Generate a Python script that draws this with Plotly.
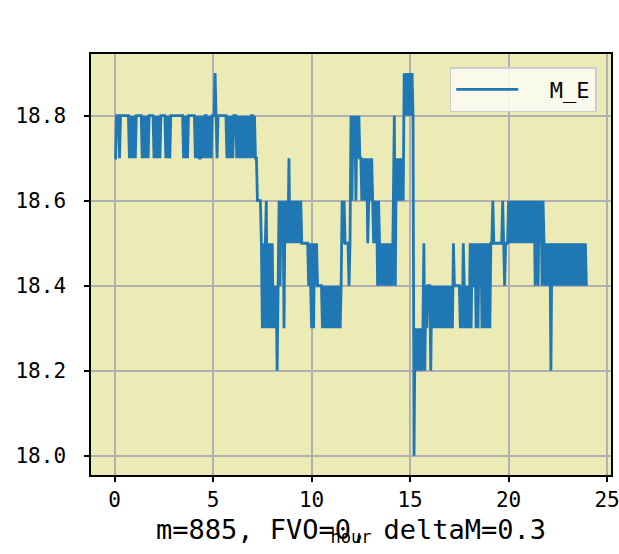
import plotly.graph_objects as go

# M_E readings sampled every 0.05 h; one string per hour,
# each digit = tenths above 18.0 (e.g. "7" -> 18.7)
series_name = "M_E"
base_value = 18.0
step_hours = 0.05
hour_blocks = [
    "77888788888888878787",  # 0 h
    "87888888787878788888",  # 1 h
    "78787878888878787888",  # 2 h
    "88888888887878788888",  # 3 h
    "88787877878788787878",  # 4 h
    "88987888888888787878",  # 5 h
    "78887878787878787878",  # 6 h
    "87877666653535635353",  # 7 h
    "53434246465636565756",  # 8 h
    "56565656565555555454",  # 9 h
    "35354544444343434343",  # 10 h
    "43434343434656555545",  # 11 h
    "86878687877676767567",  # 12 h
    "67656564654545454545",  # 13 h
    "45468476767676989898",  # 14 h
    "98980323232323524344",  # 15 h
    "42434343434343434343",  # 16 h
    "43435444444343543434",  # 17 h
    "35354453535453535353",  # 18 h
    "53556555555555654555",  # 19 h
    "65656565656565656565",  # 20 h
    "65656564654656465454",  # 21 h
    "54525454545454545454",  # 22 h
    "54545454545454545454",  # 23 h
]
x_ticks = [0, 5, 10, 15, 20, 25]
y_ticks = [18.0, 18.2, 18.4, 18.6, 18.8]
title_text = "m=885, FVO=0, deltaM=0.3"
x_label = "hour"

values = [round(base_value + int(c) / 10, 1) for block in hour_blocks for c in block]
hours = [round(i * step_hours, 2) for i in range(len(values))]

FONT = "DejaVu Sans Mono"

fig = go.Figure()
fig.add_trace(go.Scatter(
    x=hours, y=values, mode="lines", name="\u00a0\u00a0" + series_name,
    line=dict(color="#1f77b4", width=2.8, simplify=False),
))

axis_common = dict(
    showline=True, mirror=True, linecolor="black", linewidth=1.5,
    ticks="outside", ticklen=5, tickwidth=1.5, tickcolor="black",
    showgrid=True, gridcolor="#b0b0b0", gridwidth=1.5,
    zeroline=False, automargin=False, ticklabeloverflow="allow",
    tickfont=dict(family=FONT, size=21, color="black"),
)

fig.update_layout(
    width=619, height=554,
    margin=dict(l=91, r=8, t=54, b=79),
    paper_bgcolor="white",
    plot_bgcolor="#ecebb5",
    font=dict(family=FONT, color="black"),
    showlegend=True,
    legend=dict(
        x=0.9725, y=0.969, xanchor="right", yanchor="top",
        itemwidth=62,
        bgcolor="rgba(252,252,242,0.9)", bordercolor="#cccccc", borderwidth=1.5,
        font=dict(family=FONT, size=22, color="black"),
    ),
    title=dict(
        text=title_text, x=0.5, xref="paper", y=1 - 530 / 554, yref="container",
        xanchor="center", yanchor="middle",
        font=dict(family=FONT, size=27, color="black"),
    ),
    xaxis=dict(
        range=[-1.2, 25.2], tickvals=x_ticks, ticktext=[str(v) for v in x_ticks],
        title=dict(text=x_label, font=dict(family=FONT, size=17, color="black"), standoff=20),
        **axis_common,
    ),
    yaxis=dict(
        range=[17.955, 18.945], tickvals=y_ticks,
        ticktext=[f"{v:.1f}" for v in y_ticks], ticklabelstandoff=14,
        **axis_common,
    ),
)

fig.write_html(
    "out.html",
    config={"displayModeBar": False},
    post_script="document.body.style.margin='0';",
)
